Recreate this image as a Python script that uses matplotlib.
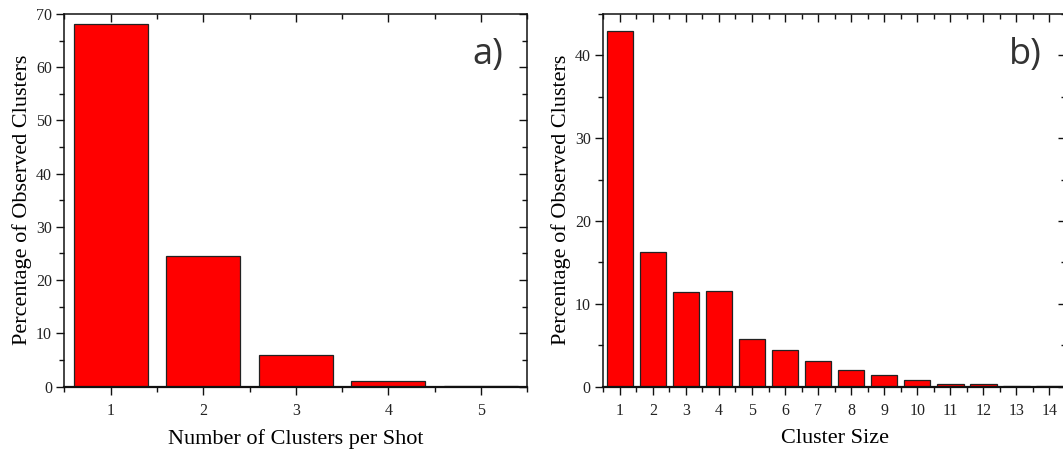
import numpy as np
import matplotlib
matplotlib.use('Agg')
import matplotlib.pyplot as plt
from matplotlib.ticker import MultipleLocator

# Panel a) clusters per shot
shots = [1, 2, 3, 4, 5]
shot_pct = [68.1, 24.6, 5.9, 1.1, 0.1]

# Panel b) cluster size distribution
sizes = [1, 2, 3, 4, 5, 6, 7, 8, 9, 10, 11, 12, 13, 14]
size_pct = [43.0, 16.2, 11.4, 11.5, 5.7, 4.4, 3.05, 1.95, 1.35, 0.8, 0.35, 0.25, 0.05, 0.05]

plt.rcParams['font.family'] = ['Liberation Serif', 'DejaVu Serif']

fig = plt.figure(figsize=(10.63, 4.5), dpi=100)
ax1 = fig.add_axes([0.0606, 0.1411, 0.4354, 0.8279])
ax2 = fig.add_axes([0.5675, 0.1411, 0.4353, 0.8279])

def style_axes(ax):
    for s in ax.spines.values():
        s.set_linewidth(1.1)
        s.set_color('#111111')
    ax.spines['bottom'].set_linewidth(1.6)
    ax.tick_params(which='both', direction='out', width=1.0, colors='#111111',
                   labelcolor='#222222', labelsize=11.5)
    ax.tick_params(which='major', length=6)
    ax.tick_params(which='minor', length=3.5)
    ax.tick_params(axis='x', pad=6)
    ax.tick_params(axis='y', pad=3)
    # mirrored ticks on top and right, no labels
    ax.tick_params(which='both', top=True, right=True, labeltop=False, labelright=False)
    # mirrored ticks point inward
    for t in ax.xaxis.get_major_ticks() + ax.xaxis.get_minor_ticks():
        t.tick2line.set_marker(3)  # TICKDOWN
    for t in ax.yaxis.get_major_ticks() + ax.yaxis.get_minor_ticks():
        t.tick2line.set_marker(0)  # TICKLEFT

# ---- a)
ax1.bar(shots, shot_pct, width=0.8, color='#ff0000', edgecolor='#222222', linewidth=0.9)
ax1.set_xlim(0.5, 5.5)
ax1.set_ylim(0, 70)
ax1.xaxis.set_major_locator(MultipleLocator(1))
ax1.xaxis.set_minor_locator(MultipleLocator(0.5))
ax1.yaxis.set_major_locator(MultipleLocator(10))
ax1.yaxis.set_minor_locator(MultipleLocator(5))
style_axes(ax1)
ax1.set_xlabel('Number of Clusters per Shot', fontsize=16, labelpad=7)
ax1.set_ylabel('Percentage of Observed Clusters', fontsize=16, labelpad=3)
ax1.text(0.948, 0.89, 'a)', transform=ax1.transAxes, ha='right', va='center',
         fontsize=26, family='Open Sans', color='#333333')

# ---- b)
ax2.bar(sizes, size_pct, width=0.8, color='#ff0000', edgecolor='#222222', linewidth=0.9)
ax2.set_xlim(0.5, 14.5)
ax2.set_ylim(0, 45)
ax2.xaxis.set_major_locator(MultipleLocator(1))
ax2.xaxis.set_minor_locator(MultipleLocator(0.5))
ax2.yaxis.set_major_locator(MultipleLocator(10))
ax2.yaxis.set_minor_locator(MultipleLocator(5))
style_axes(ax2)
ax2.set_xlabel('Cluster Size', fontsize=16, labelpad=7)
ax2.set_ylabel('Percentage of Observed Clusters', fontsize=16, labelpad=3)
ax2.text(0.948, 0.89, 'b)', transform=ax2.transAxes, ha='right', va='center',
         fontsize=26, family='Open Sans', color='#333333')

fig.savefig('out.png', dpi=100)
